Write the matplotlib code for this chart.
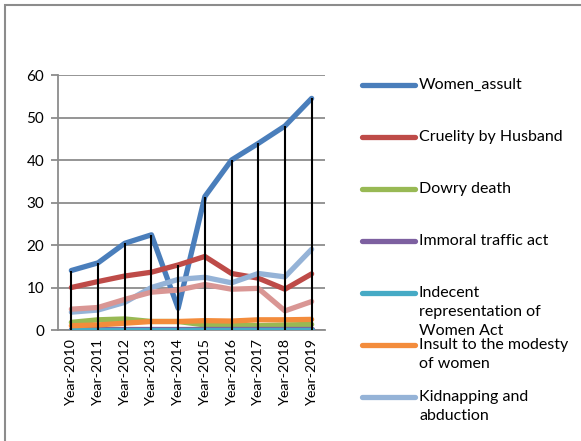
import matplotlib
matplotlib.use("Agg")
import matplotlib.pyplot as plt
from matplotlib.lines import Line2D
from matplotlib.patches import Rectangle
import numpy as np

plt.rcParams['font.family'] = ['Lato', 'DejaVu Sans']

years = ["Year-2010", "Year-2011", "Year-2012", "Year-2013", "Year-2014",
         "Year-2015", "Year-2016", "Year-2017", "Year-2018", "Year-2019"]

women_assult = [14.0, 15.8, 20.4, 22.4, 5.1, 31.4, 40.0, 43.9, 48.0, 54.5]
cruelity_by_husband = [10.0, 11.4, 12.7, 13.6, 15.3, 17.3, 13.3, 12.2, 9.6, 13.2]
dowry_death = [1.8, 2.4, 2.6, 2.0, 2.0, 1.2, 1.2, 1.0, 1.2, 1.3]
immoral_traffic_act = [0.3, 0.3, 0.3, 0.3, 0.3, 0.3, 0.3, 0.3, 0.3, 0.3]
indecent_representation = [0.05, 0.05, 0.05, 0.05, 0.05, 0.05, 0.05, 0.05, 0.05, 0.05]
insult_modesty = [1.0, 1.2, 1.6, 2.0, 2.0, 2.2, 2.1, 2.4, 2.4, 2.5]
kidnapping_abduction = [4.2, 4.7, 6.5, 10.0, 11.9, 12.4, 11.1, 13.3, 12.5, 19.0]
rape = [4.9, 5.3, 7.2, 8.9, 9.4, 10.7, 9.6, 9.8, 4.5, 6.7]

series = [
    ("Women_assult", women_assult, "#4A7EBB"),
    ("Cruelity by Husband", cruelity_by_husband, "#BE4B48"),
    ("Dowry death", dowry_death, "#98B954"),
    ("Immoral traffic act", immoral_traffic_act, "#7D60A0"),
    ("Indecent\nrepresentation of\nWomen Act", indecent_representation, "#46AAC5"),
    ("Insult to the modesty\nof women", insult_modesty, "#F38C3C"),
    ("Kidnapping and\nabduction", kidnapping_abduction, "#95B3D7"),
    (None, rape, "#D99694"),
]

W, H = 581, 441
fig = plt.figure(figsize=(W / 100, H / 100), dpi=100)
fig.patches.append(Rectangle((5 / W, -0.1), 1.2, 1 - 5 / H + 0.1, transform=fig.transFigure,
                             fill=False, edgecolor="#8C8C8C", linewidth=1.5))

ax = fig.add_axes([58 / W, 1 - 330 / H, (325 - 58) / W, (330 - 75) / H])
x = np.arange(len(years))

for name, vals, col in series:
    ax.plot(x, vals, color=col, linewidth=3.8, solid_capstyle="round", solid_joinstyle="round", zorder=3)

allv = np.array([s[1] for s in series])
ax.vlines(x, allv.min(axis=0), allv.max(axis=0), color="black", linewidth=1.5, zorder=5)

ax.set_xlim(-0.5, len(years) - 0.5)
ax.set_ylim(0, 60)
ax.set_yticks(range(0, 61, 10))
ax.yaxis.grid(True, color="#8C8C8C", linewidth=1.3)
ax.set_axisbelow(True)
ax.set_xticks(x)
ax.set_xticklabels(years, rotation=90, fontsize=10.3)
ax.tick_params(axis="x", length=0, pad=6)
ax.tick_params(axis="y", length=5, color="#8C8C8C", width=1.3, labelsize=11, pad=5)
for sp in ["top", "right"]:
    ax.spines[sp].set_visible(False)
for sp in ["left", "bottom"]:
    ax.spines[sp].set_color("#8C8C8C")
    ax.spines[sp].set_linewidth(1.3)
ax.set_facecolor("none")

# legend
entry_y = [85, 137, 189, 241, 293, 345, 397]
for (name, vals, col), yy in zip(series[:7], entry_y):
    fy = 1 - yy / H
    fig.add_artist(Line2D([362 / W, 415 / W], [fy, fy], color=col, linewidth=3.8,
                          solid_capstyle="round", transform=fig.transFigure))
    fig.text(419 / W, 1 - (yy - 7) / H, name, fontsize=11.5, va="top", ha="left", linespacing=1.45)

fig.savefig("out.png", dpi=100)
